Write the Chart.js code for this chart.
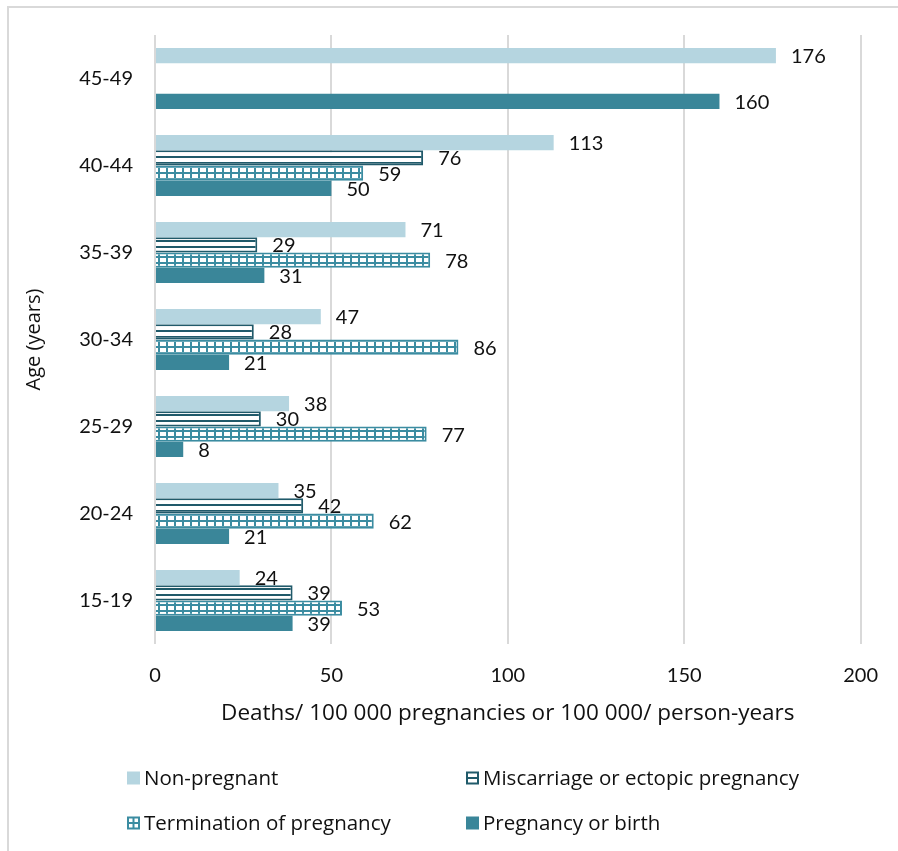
<!DOCTYPE html>
<html><head><meta charset="utf-8">
<script src="https://cdn.jsdelivr.net/npm/chart.js@4"></script>
<style>html,body{margin:0;padding:0;background:#fff;overflow:hidden}#wrap{width:898px;height:851px;position:relative}</style>
</head><body><div id="wrap"><canvas id="c" width="898" height="851"></canvas></div>
<script>
const ageGroups = ['45-49','40-44','35-39','30-34','25-29','20-24','15-19'];
const nonPregnant = [176,113,71,47,38,35,24];
const miscarriage = [null,76,29,28,30,42,39];
const termination = [null,59,78,86,77,62,53];
const pregnancyBirth = [160,50,31,21,8,21,39];
const seriesNames = ['Non-pregnant','Miscarriage or ectopic pregnancy','Termination of pregnancy','Pregnancy or birth'];
const xTickValues = [0,50,100,150,200];
const xTitle = 'Deaths/ 100 000 pregnancies or 100 000/ person-years';
const yTitle = 'Age (years)';

const NUMFONT = 'Lato';
const TXTFONT = '"Open Sans"';
const C_LIGHT = '#b5d5e0', C_DARK = '#205a6a', C_TEAL = '#3b8ca1', C_SOLID = '#3a8699';

const canvas = document.getElementById('c');
const ctx = canvas.getContext('2d');

function makePattern(w,h,draw){
  const p=document.createElement('canvas'); p.width=w; p.height=h;
  const g=p.getContext('2d'); draw(g); return ctx.createPattern(p,'repeat');
}
const stripePat = makePattern(4,6,g=>{g.fillStyle='#fff';g.fillRect(0,0,4,6);g.fillStyle=C_DARK;g.fillRect(0,0,4,2);});
const gridPat = makePattern(8,6,g=>{g.fillStyle=C_TEAL;g.fillRect(0,0,8,6);g.fillStyle='#fff';g.fillRect(0,0,6,4);});

const labelPlugin = {
  id:'labels',
  beforeDraw(chart){
    const c=chart.ctx; c.save(); c.fillStyle='#d9d9d9';
    c.fillRect(7,6,2,851); c.fillRect(7,6,898,2); c.restore();
  },
  afterDatasetsDraw(chart){
    const c=chart.ctx; c.save();
    c.font='20px '+NUMFONT; c.fillStyle='#111'; c.textBaseline='middle'; c.textAlign='left';
    chart.data.datasets.forEach((ds,i)=>{
      const meta=chart.getDatasetMeta(i);
      meta.data.forEach((el,j)=>{
        const v=ds.data[j]; if(v===null||v===undefined) return;
        c.fillText(String(v), el.x+15, el.y+1);
      });
    });
    c.restore();
  },
  afterDraw(chart){
    const c=chart.ctx; c.save();
    c.font='20.5px '+TXTFONT; c.fillStyle='#111'; c.textBaseline='middle'; c.textAlign='left';
    const pos=[[127,778],[466,778],[127,823],[466,823]];
    const s=13;
    pos.forEach((p,i)=>{
      const [x,y]=p; const t=y-s/2;
      if(i===0){c.fillStyle=C_LIGHT;c.fillRect(x,t,s,s);}
      else if(i===3){c.fillStyle=C_SOLID;c.fillRect(x,t,s,s);}
      else if(i===1){
        c.fillStyle=C_DARK;c.fillRect(x,t,s,s);c.fillStyle='#fff';
        c.fillRect(x+2,t+2,s-4,3.5);c.fillRect(x+2,t+7.5,s-4,3.5);
      } else {
        c.fillStyle=C_TEAL;c.fillRect(x,t,s,s);c.fillStyle='#fff';
        c.fillRect(x+2,t+2,3.5,3.5);c.fillRect(x+7.5,t+2,3.5,3.5);
        c.fillRect(x+2,t+7.5,3.5,3.5);c.fillRect(x+7.5,t+7.5,3.5,3.5);
      }
      c.fillStyle='#111'; c.fillText(seriesNames[i], x+s+4, y+1);
    });
    c.restore();
  }
};

new Chart(ctx,{
  type:'bar',
  data:{
    labels:ageGroups,
    datasets:[
      {label:seriesNames[0],data:nonPregnant,backgroundColor:C_LIGHT,borderWidth:0},
      {label:seriesNames[1],data:miscarriage,backgroundColor:stripePat,borderColor:C_DARK,borderWidth:2},
      {label:seriesNames[2],data:termination,backgroundColor:gridPat,borderColor:C_TEAL,borderWidth:2},
      {label:seriesNames[3],data:pregnancyBirth,backgroundColor:C_SOLID,borderWidth:0}
    ]
  },
  options:{
    indexAxis:'y',
    responsive:false,
    animation:false,
    events:[],
    layout:{padding:{left:22,top:35,right:26,bottom:0}},
    datasets:{bar:{barPercentage:1,categoryPercentage:0.7}},
    plugins:{legend:{display:false},tooltip:{enabled:false}},
    scales:{
      x:{
        min:0,max:200,
        afterBuildTicks(scale){scale.ticks=xTickValues.map(v=>({value:v}));},
        afterFit(scale){scale.height=207;},
        grid:{color:'#d9d9d9',lineWidth:2,drawTicks:false},
        border:{display:false},
        ticks:{font:{family:NUMFONT,size:20},color:'#111',padding:20},
        title:{display:true,text:xTitle,font:{family:TXTFONT,size:22.5},color:'#111',padding:{top:0,bottom:124}}
      },
      y:{
        afterFit(scale){scale.width=133;},
        grid:{display:false,drawTicks:false},
        border:{display:false},
        ticks:{font:{family:NUMFONT,size:20},color:'#111',padding:22},
        title:{display:true,text:yTitle,font:{family:TXTFONT,size:20},color:'#111',padding:0}
      }
    }
  },
  plugins:[labelPlugin]
});
</script></body></html>
